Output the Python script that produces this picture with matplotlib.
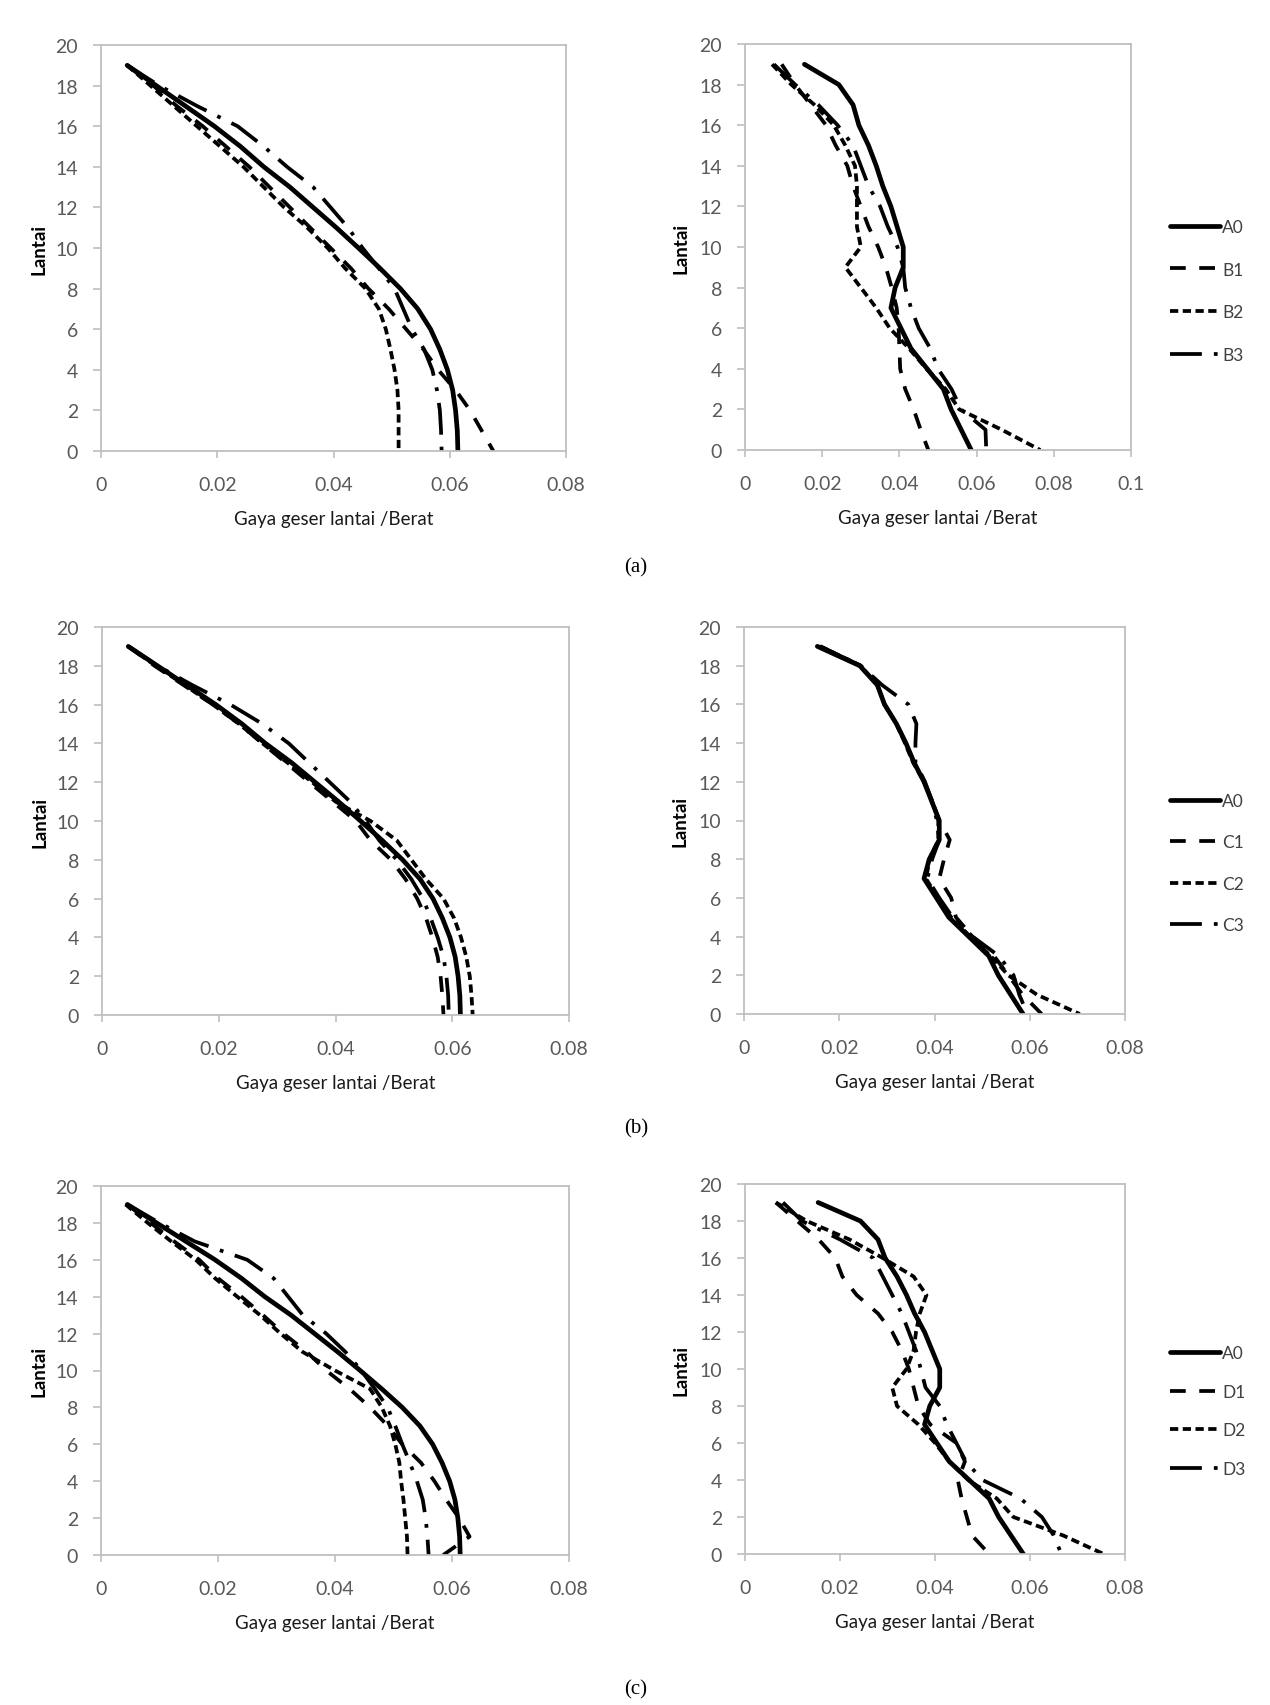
import matplotlib.pyplot as plt

W, H = 1270, 1706

# floors, top to bottom
floors = list(range(19, -1, -1))

# A0 reference model (same in every row)
a0_left = [0.0045, 0.0095, 0.0145, 0.0195, 0.024, 0.028, 0.0325, 0.0365, 0.0405, 0.0443,
           0.048, 0.0515, 0.0545, 0.0567, 0.0583, 0.0596, 0.0605, 0.061, 0.0613, 0.0614]
a0_right = [0.0154, 0.0243, 0.028, 0.0295, 0.032, 0.034, 0.0357, 0.0378, 0.0394, 0.041,
            0.041, 0.0389, 0.0378, 0.0404, 0.043, 0.0472, 0.0514, 0.0534, 0.056, 0.0586]

# row (a)
b1_left = [0.0045, 0.009, 0.013, 0.0175, 0.0215, 0.0255, 0.029, 0.0325, 0.036, 0.0395,
           0.043, 0.046, 0.0495, 0.0525, 0.0555, 0.058, 0.061, 0.0635, 0.0655, 0.0675]
b2_left = [0.0045, 0.0085, 0.0125, 0.0165, 0.0205, 0.0245, 0.028, 0.0315, 0.0355, 0.039,
           0.042, 0.0455, 0.0478, 0.049, 0.0498, 0.0505, 0.051, 0.0512, 0.0512, 0.0512]
b3_left = [0.0045, 0.010, 0.0165, 0.0235, 0.028, 0.032, 0.0365, 0.0395, 0.0425, 0.045,
           0.0478, 0.0505, 0.052, 0.0535, 0.0556, 0.057, 0.0578, 0.0583, 0.0585, 0.0586]
b1_right = [0.0095, 0.013, 0.017, 0.021, 0.0235, 0.0265, 0.028, 0.030, 0.032, 0.0345,
            0.0365, 0.038, 0.0393, 0.0398, 0.040, 0.0402, 0.0415, 0.0437, 0.0455, 0.0475]
b2_right = [0.007, 0.012, 0.018, 0.023, 0.026, 0.0285, 0.029, 0.029, 0.029, 0.030,
            0.026, 0.030, 0.034, 0.0375, 0.0425, 0.047, 0.052, 0.0555, 0.0665, 0.0765]
b3_right = [0.0075, 0.013, 0.019, 0.024, 0.028, 0.030, 0.032, 0.035, 0.037, 0.0395,
            0.041, 0.0415, 0.043, 0.045, 0.048, 0.050, 0.0535, 0.056, 0.0623, 0.0625]

# row (b)
c1_left = [0.0045, 0.009, 0.014, 0.019, 0.0235, 0.0275, 0.0315, 0.0355, 0.0395, 0.0435,
           0.046, 0.0495, 0.052, 0.054, 0.0555, 0.0566, 0.0575, 0.058, 0.0583, 0.0585]
c2_left = [0.0045, 0.0092, 0.0142, 0.019, 0.0235, 0.0275, 0.0318, 0.036, 0.040, 0.046,
           0.0505, 0.053, 0.0555, 0.0585, 0.0603, 0.0615, 0.0624, 0.063, 0.0633, 0.0635]
c3_left = [0.0045, 0.0095, 0.0155, 0.022, 0.0275, 0.032, 0.0355, 0.039, 0.0425, 0.0452,
           0.0475, 0.0505, 0.053, 0.055, 0.0563, 0.0575, 0.0585, 0.059, 0.0593, 0.0594]
c1_right = [0.016, 0.0245, 0.028, 0.0295, 0.032, 0.034, 0.0357, 0.0378, 0.0395, 0.041,
            0.0432, 0.042, 0.041, 0.0435, 0.0445, 0.048, 0.0525, 0.0555, 0.0585, 0.0625]
c2_right = [0.016, 0.0245, 0.028, 0.0295, 0.032, 0.0338, 0.0355, 0.0378, 0.0395, 0.0408,
            0.0408, 0.039, 0.0382, 0.0407, 0.0435, 0.0475, 0.0518, 0.0555, 0.0615, 0.0705]
c3_right = [0.016, 0.0245, 0.029, 0.0345, 0.0362, 0.036, 0.036, 0.038, 0.0395, 0.0405,
            0.041, 0.0395, 0.0385, 0.041, 0.0438, 0.048, 0.0535, 0.0566, 0.0578, 0.0595]

# row (c)
d1_left = [0.0045, 0.0085, 0.0125, 0.0168, 0.020, 0.024, 0.0277, 0.0312, 0.0352, 0.0385,
           0.0425, 0.046, 0.049, 0.0515, 0.0547, 0.057, 0.059, 0.0612, 0.063, 0.0585]
d2_left = [0.0042, 0.008, 0.012, 0.0162, 0.0195, 0.0233, 0.0272, 0.0307, 0.0345, 0.040,
           0.046, 0.048, 0.0494, 0.0503, 0.051, 0.0513, 0.0517, 0.052, 0.0523, 0.0524]
d3_left = [0.0045, 0.010, 0.016, 0.025, 0.0295, 0.032, 0.0345, 0.0385, 0.0418, 0.0445,
           0.0468, 0.049, 0.0503, 0.0515, 0.0528, 0.054, 0.055, 0.0555, 0.0558, 0.056]
d1_right = [0.0065, 0.011, 0.0155, 0.019, 0.0205, 0.0235, 0.028, 0.031, 0.033, 0.0345,
            0.0355, 0.0365, 0.039, 0.0445, 0.0463, 0.0448, 0.0456, 0.0467, 0.0478, 0.0514]
d2_right = [0.0065, 0.013, 0.022, 0.029, 0.0355, 0.0382, 0.0368, 0.036, 0.0355, 0.034,
            0.031, 0.032, 0.0365, 0.040, 0.043, 0.047, 0.053, 0.0565, 0.067, 0.0755]
d3_right = [0.008, 0.012, 0.020, 0.027, 0.029, 0.031, 0.033, 0.0345, 0.036, 0.037,
            0.038, 0.041, 0.0425, 0.0445, 0.0465, 0.050, 0.058, 0.0625, 0.065, 0.0666]

GRAY = "#bfbfbf"
STYLES = {
    "solid": dict(linestyle="-", lw=3.4, solid_capstyle="round", solid_joinstyle="round"),
    "dash": dict(dashes=(4.2, 3.6), lw=2.7),
    "dot": dict(dashes=(2.2, 1.2), lw=2.7),
    "dashdot": dict(dashes=(8.5, 3.2, 1, 3.2), lw=2.7),
}
FONT = ["Lato", "DejaVu Sans"]


def px_rect(x0, y0, x1, y1):
    return [x0 / W, 1 - y1 / H, (x1 - x0) / W, (y1 - y0) / H]


def draw(rect, series, xmax, ylabelpad):
    ax = fig.add_axes(rect)
    for vals, label, style in series:
        ax.plot(vals, floors, color="black", label=label, **STYLES[style])
    ax.set_xlim(0, xmax)
    ax.set_ylim(0, 20)
    if xmax > 0.09:
        ticks = [0, 0.02, 0.04, 0.06, 0.08, 0.1]
        labels = ["0", "0.02", "0.04", "0.06", "0.08", "0.1"]
    else:
        ticks = [0, 0.02, 0.04, 0.06, 0.08]
        labels = ["0", "0.02", "0.04", "0.06", "0.08"]
    ax.set_xticks(ticks)
    ax.set_xticklabels(labels, family=FONT)
    ax.set_yticks(range(0, 21, 2))
    ax.set_yticklabels([str(v) for v in range(0, 21, 2)], family=FONT)
    for sp in ax.spines.values():
        sp.set_color(GRAY)
        sp.set_linewidth(1.3)
    ax.tick_params(axis="x", direction="out", length=5, width=1.2, color=GRAY,
                   labelcolor="#595959", labelsize=14, pad=13)
    ax.tick_params(axis="y", direction="out", length=5.5, width=1.2, color=GRAY,
                   labelcolor="#595959", labelsize=14, pad=11)
    ax.set_xlabel("Gaya geser lantai /Berat", family=FONT, fontsize=13.5,
                  color="#1a1a1a", labelpad=12)
    ax.set_ylabel("Lantai", family=FONT, fontsize=13.5, fontweight="bold",
                  color="black", labelpad=ylabelpad)
    return ax


fig = plt.figure(figsize=(W / 100, H / 100), dpi=100)

rows = [
    ("(a)", ["A0", "B1", "B2", "B3"], [a0_left, b1_left, b2_left, b3_left],
     [a0_right, b1_right, b2_right, b3_right],
     px_rect(101, 46, 566, 452), px_rect(745, 45, 1131, 451), 0.1, 568, 292, 1.55),
    ("(b)", ["A0", "C1", "C2", "C3"], [a0_left, c1_left, c2_left, c3_left],
     [a0_right, c1_right, c2_right, c3_right],
     px_rect(102, 628, 569, 1016), px_rect(744, 628, 1125, 1015), 0.08, 1129, 864, 1.45),
    ("(c)", ["A0", "D1", "D2", "D3"], [a0_left, d1_left, d2_left, d3_left],
     [a0_right, d1_right, d2_right, d3_right],
     px_rect(101, 1187, 569, 1556), px_rect(745, 1185, 1125, 1555), 0.08, 1690, 1412, 1.3),
]
kinds = ["solid", "dash", "dot", "dashdot"]

for tag, names, left, right, rect_l, rect_r, xmax_r, tag_y, leg_y, spacing in rows:
    draw(rect_l, list(zip(left, names, kinds)), 0.08, 6)
    ax_r = draw(rect_r, list(zip(right, names, kinds)), xmax_r, 7)
    handles, labels = ax_r.get_legend_handles_labels()
    leg = fig.legend(handles, labels, loc="center left",
                     bbox_to_anchor=(1170 / W, 1 - leg_y / H), frameon=False,
                     borderaxespad=0, borderpad=0, handlelength=2.9,
                     handletextpad=0.1, labelspacing=spacing,
                     prop=dict(family=FONT, size=12.5))
    for t in leg.get_texts():
        t.set_color("#404040")
    fig.text(636 / W, 1 - tag_y / H, tag, family="Liberation Serif", fontsize=15,
             ha="center", va="center")

fig.savefig("out.png", dpi=100, facecolor="white")
